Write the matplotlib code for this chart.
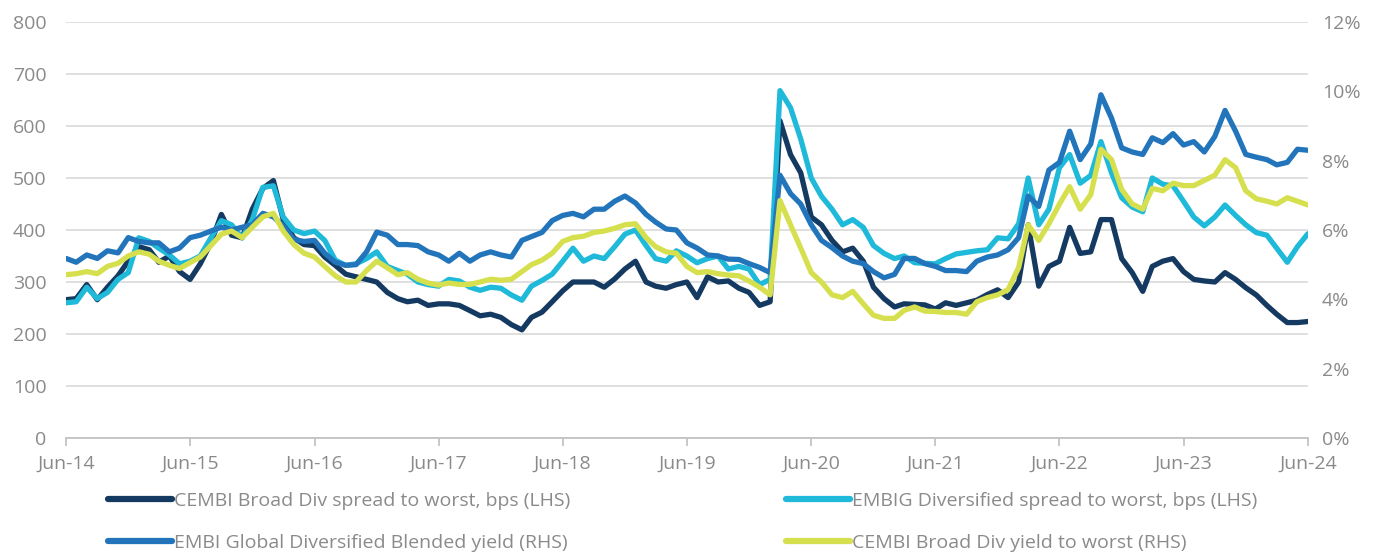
import matplotlib
matplotlib.use("Agg")
import matplotlib.pyplot as plt
import matplotlib.dates as mdates
from matplotlib import font_manager
from matplotlib.lines import Line2D
from matplotlib.ticker import FuncFormatter, MultipleLocator
import pandas as pd

# monthly readings from Jun-14 to Jun-24 (one row = one year, Jun..May)
start_month = "2014-06-01"

cembi_spread = [  # bps, LHS
    266, 268, 295, 266, 290, 312, 340, 368, 362, 338, 350, 320,
    305, 335, 375, 430, 390, 385, 440, 480, 495, 420, 385, 372,
    370, 348, 332, 315, 310, 305, 300, 280, 268, 262, 265, 255,
    258, 258, 255, 245, 235, 238, 232, 218, 208, 232, 242, 262,
    283, 300, 300, 300, 290, 306, 325, 340, 300, 292, 288, 295,
    300, 270, 310, 300, 302, 288, 280, 255, 262, 610, 545, 510,
    425, 410, 380, 358, 365, 340, 290, 268, 252, 258, 257, 256,
    248, 260, 255, 260, 265, 276, 285, 270, 300, 410, 292, 330,
    340, 405, 355, 358, 420, 420, 345, 318, 282, 330, 340, 345,
    320, 305, 302, 300, 318, 305, 289, 275, 255, 238, 222, 222,
    224,
]
embig_spread = [  # bps, LHS
    260, 262, 290, 268, 280, 305, 318, 385, 378, 365, 352, 335,
    340, 350, 385, 418, 410, 385, 420, 482, 485, 425, 400, 393,
    398, 380, 342, 332, 335, 345, 358, 330, 322, 315, 300, 295,
    292, 305, 302, 290, 284, 290, 288, 275, 265, 292, 303, 315,
    340, 365, 340, 350, 345, 368, 392, 400, 370, 345, 340, 360,
    350, 337, 345, 350, 325, 330, 325, 295, 305, 668, 635, 575,
    500, 465, 440, 410, 420, 405, 370, 355, 345, 350, 337, 336,
    335, 345, 354, 357, 360, 362, 385, 383, 412, 500, 410, 440,
    520, 545, 490, 505, 570, 510, 462, 444, 435, 500, 488, 485,
    455, 425, 408, 425, 448, 428, 410, 395, 390, 365, 338, 368,
    393,
]
embi_yield = [  # %, RHS
    5.18, 5.07, 5.28, 5.18, 5.40, 5.34, 5.78, 5.67, 5.63, 5.63, 5.37, 5.48,
    5.78, 5.85, 5.97, 6.08, 6.00, 6.08, 6.15, 6.48, 6.38, 6.12, 5.73, 5.67,
    5.70, 5.33, 5.07, 4.98, 5.00, 5.37, 5.94, 5.85, 5.58, 5.58, 5.55, 5.37,
    5.28, 5.10, 5.33, 5.10, 5.28, 5.37, 5.28, 5.22, 5.70, 5.81, 5.93, 6.27,
    6.42, 6.48, 6.38, 6.60, 6.60, 6.83, 6.98, 6.78, 6.45, 6.23, 6.03, 6.00,
    5.63, 5.48, 5.28, 5.25, 5.16, 5.15, 5.03, 4.92, 4.77, 7.58, 7.05, 6.75,
    6.15, 5.70, 5.49, 5.25, 5.10, 5.03, 4.80, 4.62, 4.72, 5.18, 5.18, 5.03,
    4.95, 4.83, 4.83, 4.80, 5.10, 5.22, 5.28, 5.43, 5.78, 6.98, 6.68, 7.73,
    7.95, 8.85, 8.03, 8.48, 9.90, 9.23, 8.37, 8.25, 8.18, 8.66, 8.52, 8.78,
    8.45, 8.55, 8.25, 8.70, 9.45, 8.85, 8.18, 8.10, 8.03, 7.88, 7.95, 8.33,
    8.30,
]
cembi_yield = [  # %, RHS
    4.71, 4.74, 4.80, 4.74, 4.95, 5.04, 5.25, 5.37, 5.30, 5.10, 4.98, 4.89,
    5.06, 5.22, 5.55, 5.88, 5.97, 5.78, 6.08, 6.38, 6.48, 5.97, 5.58, 5.33,
    5.22, 4.95, 4.68, 4.50, 4.50, 4.83, 5.10, 4.91, 4.71, 4.77, 4.58, 4.47,
    4.41, 4.47, 4.43, 4.43, 4.50, 4.58, 4.55, 4.58, 4.80, 5.00, 5.13, 5.33,
    5.67, 5.78, 5.82, 5.93, 5.97, 6.05, 6.15, 6.18, 5.78, 5.52, 5.37, 5.33,
    4.95, 4.77, 4.80, 4.74, 4.70, 4.68, 4.53, 4.35, 4.13, 6.85, 6.15, 5.48,
    4.77, 4.50, 4.13, 4.05, 4.23, 3.87, 3.54, 3.45, 3.45, 3.68, 3.78, 3.66,
    3.65, 3.62, 3.62, 3.57, 3.93, 4.05, 4.13, 4.28, 4.92, 6.15, 5.70, 6.18,
    6.75, 7.25, 6.60, 7.02, 8.33, 8.03, 7.17, 6.75, 6.60, 7.20, 7.13, 7.35,
    7.28, 7.28, 7.43, 7.58, 8.03, 7.80, 7.13, 6.90, 6.83, 6.75, 6.93, 6.83,
    6.72,
]

series_labels = [
    "CEMBI Broad Div spread to worst, bps (LHS)",
    "EMBIG Diversified spread to worst, bps (LHS)",
    "EMBI Global Diversified Blended yield (RHS)",
    "CEMBI Broad Div yield to worst (RHS)",
]
colors = ["#153A62", "#1FB9D9", "#2375BB", "#D6E04E"]

available = {f.name for f in font_manager.fontManager.ttflist}
family = "Liberation Sans Narrow" if "Liberation Sans Narrow" in available else "Open Sans"
plt.rcParams["font.family"] = [family, "DejaVu Sans"]

grey = "#8A8A8A"
fs = 14

dates = pd.date_range(start_month, periods=len(cembi_spread), freq="MS")

fig = plt.figure(figsize=(13.75, 5.54), dpi=100)
ax = fig.add_axes([66 / 1375, 116 / 554, 1242 / 1375, 416 / 554])
ax2 = ax.twinx()

lw = 3.8
ax.plot(dates, cembi_spread, color=colors[0], lw=lw, solid_capstyle="round", zorder=3)
ax.plot(dates, embig_spread, color=colors[1], lw=lw, solid_capstyle="round", zorder=3)
ax2.plot(dates, embi_yield, color=colors[2], lw=lw, solid_capstyle="round")
ax2.plot(dates, cembi_yield, color=colors[3], lw=lw, solid_capstyle="round")

ax.set_ylim(0, 800)
ax2.set_ylim(0, 12)
ax.set_xlim(dates[0], dates[-1])
ax.yaxis.set_major_locator(MultipleLocator(100))
ax2.yaxis.set_major_locator(MultipleLocator(2))
ax2.yaxis.set_major_formatter(FuncFormatter(lambda v, p: f"{v:.0f}%"))

ax.xaxis.set_major_locator(mdates.MonthLocator(bymonth=6, bymonthday=1))
ax.xaxis.set_major_formatter(mdates.DateFormatter("%b-%y"))

ax.grid(axis="y", color="#D9D9D9", lw=1.2)
ax.set_axisbelow(True)

for a in (ax, ax2):
    for side in ("top", "left", "right"):
        a.spines[side].set_visible(False)
    a.spines["bottom"].set_visible(False)
ax.spines["bottom"].set_visible(True)
ax.spines["bottom"].set_color("#BFBFBF")
ax.spines["bottom"].set_linewidth(1.2)

ax.tick_params(axis="x", colors="#BFBFBF", length=6, width=1.2, labelcolor=grey,
               labelsize=fs, pad=6)
ax.tick_params(axis="y", length=0, labelcolor=grey, labelsize=fs, pad=14)
ax2.tick_params(axis="y", length=0, labelcolor=grey, labelsize=fs, pad=10)

def col_legend(idx, x0):
    handles = [Line2D([], [], color=colors[i], lw=4.5, solid_capstyle="round") for i in idx]
    lg = fig.legend(handles, [series_labels[i] for i in idx], loc="center left",
                    bbox_to_anchor=(x0 / 1375, 32 / 554), frameon=False, fontsize=fs,
                    labelcolor=grey, handlelength=3.3, handletextpad=0.1,
                    labelspacing=1.25, borderpad=0, borderaxespad=0)
    return lg

col_legend([0, 2], 108)
col_legend([1, 3], 786)

fig.savefig("out.png", dpi=100)
